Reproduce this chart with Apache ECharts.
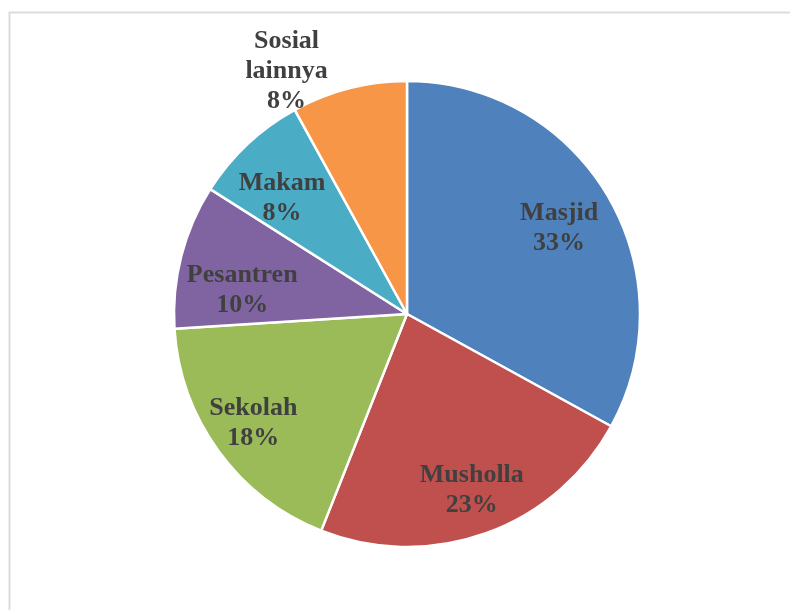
<!DOCTYPE html>
<html>
<head>
<meta charset="utf-8">
<script src="https://cdn.jsdelivr.net/npm/echarts@6/dist/echarts.min.js"></script>
<style>
  html, body { margin: 0; padding: 0; background: #ffffff; }
  #chart { width: 790px; height: 610px; }
</style>
</head>
<body>
<div id="chart"></div>
<script>
// Share of each facility type (percent)
const categories = ['Masjid', 'Musholla', 'Sekolah', 'Pesantren', 'Makam', 'Sosial lainnya'];
const shares = [33, 23, 18, 10, 8, 8];
const sliceColors = ['#4F81BD', '#C0504D', '#9BBB59', '#8064A2', '#4BACC6', '#F79646'];

const R = 233;            // pie radius in px
const CENTER = [407, 314];
// small per-label nudges (px) for the inside labels, best-fit style placement
const labelNudge = [[-5, 7], [3, 5], [-6, 2], [12, 22], [0, 17], [0, 0]];
const labelFont = {
  fontFamily: 'Liberation Serif',
  fontWeight: 'bold',
  fontSize: 26,
  lineHeight: 30,
  color: '#404040'
};

const outsideIndex = categories.length - 1; // last slice gets its label outside

// Slices
const sliceData = categories.map((name, i) => ({
  name: name,
  value: shares[i],
  itemStyle: { color: sliceColors[i] },
  label: i === outsideIndex ? {
    show: true,
    position: 'outside',
    formatter: p => p.name.split(' ').map(w => '{c|' + w + '}').join('\n') + '\n{c|' + p.value + '%}',
    rich: { c: Object.assign({ width: 88, align: 'center' }, labelFont) }
  } : { show: false },
  labelLine: { show: false, length: 18, length2: 9 }
}));

// Transparent twin of the pie, larger, used only to seat the inside labels
const labelData = categories.map((name, i) => ({
  name: name,
  value: shares[i],
  label: { show: i !== outsideIndex, offset: labelNudge[i] }
}));

const chart = echarts.init(document.getElementById('chart'), null, { renderer: 'canvas' });
chart.setOption({
  backgroundColor: '#ffffff',
  animation: false,
  graphic: [{
    type: 'rect',
    shape: { x: 9.5, y: 12.5, width: 820, height: 640 },
    style: { fill: 'none', stroke: '#dcdcdc', lineWidth: 2 },
    silent: true,
    z: -10
  }],
  series: [
    {
      type: 'pie',
      center: CENTER,
      radius: [0, R],
      startAngle: 90,
      clockwise: true,
      avoidLabelOverlap: false,
      itemStyle: { borderColor: '#ffffff', borderWidth: 2.5 },
      label: Object.assign({ distanceToLabelLine: 5 }, labelFont),
      emphasis: { disabled: true },
      data: sliceData
    },
    {
      type: 'pie',
      center: CENTER,
      radius: [0, Math.round(R * 1.54)],
      startAngle: 90,
      clockwise: true,
      silent: true,
      z: 5,
      itemStyle: { color: 'rgba(0,0,0,0)', borderWidth: 0 },
      label: Object.assign({
        position: 'inside',
        align: 'center',
        formatter: p => p.name + '\n' + p.value + '%'
      }, labelFont),
      labelLine: { show: false },
      emphasis: { disabled: true },
      data: labelData
    }
  ]
});
</script>
</body>
</html>
